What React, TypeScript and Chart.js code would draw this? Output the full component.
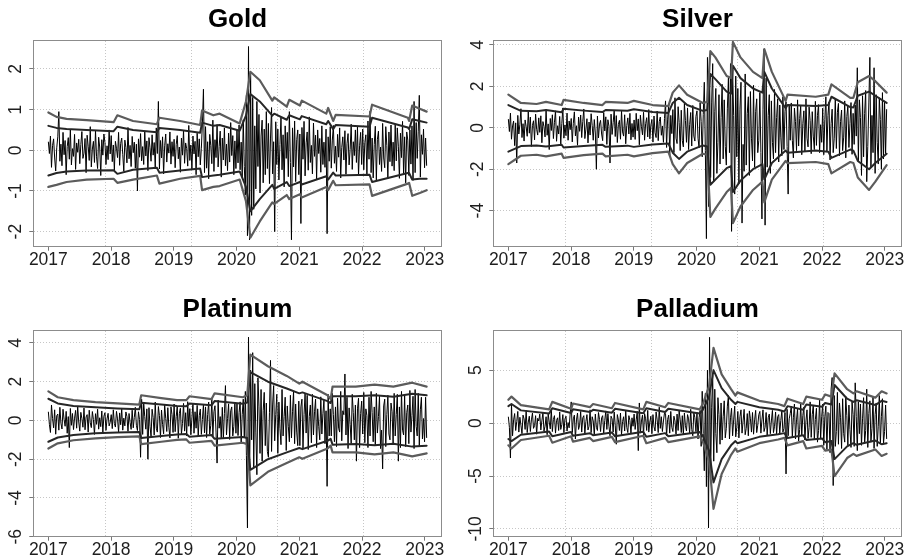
import React, { useEffect, useRef } from "react";
import { Chart, registerables } from "chart.js";
Chart.register(...registerables);

const FONT = "'Liberation Sans', Arial, Helvetica, sans-serif";
const X_MIN = 2016.76;
const X_MAX = 2023.27;
const RET_START = 2017.0;
const RET_END = 2023.03;

// year tick labels and dotted vertical grid positions (R's grid at day 17500, 18000, 18500, 19000)
const yearTicks = [2017, 2018, 2019, 2020, 2021, 2022, 2023];
const gridDates = [2017.912, 2019.282, 2020.65, 2022.019];

// ---------------- Gold ----------------
const goldReturns = [
  0.21,-0.08,0.35,-0.42,0.12,0.28,-0.19,-0.51,0.06,0.33,0.95,-0.27,0.15,-0.38,0.44,-0.11,0.24,-0.6,0.09,0.31,-0.22,0.52,-0.36,0.04,-0.15,0.39,-0.47,0.18,-0.05,0.27,
  -0.33,0.14,0.46,-0.2,-0.07,0.29,-0.55,0.37,0.1,-0.25,0.58,-0.41,0.03,0.22,-0.3,0.48,-0.16,-0.45,0.32,0.08,-0.62,0.26,-0.12,0.4,0.19,-0.35,0.11,-0.23,0.5,-0.09,
  0.36,-0.28,0.13,-0.49,0.22,0.05,-0.18,0.44,-0.37,0.17,0.3,-0.1,-0.52,0.25,0.07,-0.31,0.56,-0.21,0.12,-0.4,0.34,-0.06,0.2,-0.44,0.15,-1.0,0.28,-0.17,0.41,-0.26,
  0.09,-0.35,0.47,-0.14,0.23,-0.5,0.31,0.06,-0.27,0.38,-0.12,0.19,-0.42,0.55,-0.08,1.2,-0.46,0.24,-0.19,0.33,-0.58,0.11,0.4,-0.29,0.16,-0.07,0.45,-0.34,0.21,-0.15,
  0.27,-0.43,0.14,0.36,-0.21,0.08,-0.54,0.3,-0.12,0.49,-0.32,0.18,0.04,-0.39,0.61,-0.25,0.13,-0.47,0.35,-0.09,0.22,-0.6,0.42,-0.16,0.28,-0.36,0.05,0.66,1.5,-0.55,
  0.58,-0.44,0.21,-0.7,0.39,0.12,-0.33,0.74,-0.52,0.26,-0.18,0.63,-0.41,0.09,0.47,-0.66,0.3,-0.24,0.55,-0.38,0.15,-0.5,0.42,-0.29,0.68,-0.13,0.36,-0.6,0.23,-0.45,
  0.5,-0.31,0.62,-0.48,0.2,-0.66,0.75,-0.4,-1.1,1.35,-2.1,2.55,-2.2,1.9,-1.6,1.3,-1.45,0.6,-0.95,1.2,-0.4,0.88,-1.05,0.35,0.74,-0.8,0.52,-0.6,0.95,-0.45,
  0.66,-0.82,0.3,1.05,-0.58,0.21,-2.0,0.7,-0.35,0.52,-0.73,0.14,0.81,-0.48,0.38,-0.9,0.6,-0.2,0.44,-0.65,0.95,-0.3,-2.2,0.55,-0.41,0.72,-0.77,0.26,0.5,-0.6,
  0.4,-1.8,0.56,-0.22,0.71,-0.63,0.18,0.45,-0.49,0.82,-0.3,0.12,-0.58,0.67,-0.15,0.37,-0.71,0.5,-0.08,0.29,-0.54,0.6,-0.35,0.2,-0.42,0.52,-2.05,0.33,-0.27,0.58,
  -0.44,0.25,0.61,-0.32,0.1,-0.52,0.39,-0.17,0.55,-0.68,0.07,0.33,-0.24,0.48,-0.59,0.16,0.41,-0.36,0.02,0.64,-0.47,0.21,-0.13,0.5,-0.3,0.57,-0.62,0.11,0.44,-0.35,
  0.52,-0.48,0.19,0.38,-0.6,0.72,-0.22,0.96,-0.55,0.3,-0.68,0.14,0.59,-0.74,0.27,0.47,-0.35,0.08,-0.52,0.66,-0.19,-0.43,0.58,0.12,-0.7,0.45,-0.28,0.62,-0.39,0.2,
  -0.5,0.63,-0.26,0.55,0.1,-0.69,0.42,-0.18,0.71,-0.58,0.33,-0.8,0.45,0.25,-0.62,0.5,-0.34,0.6,-0.74,1.2,-0.55,0.68,-0.2,0.47,1.35,-0.66,0.38,-0.1,0.52,-0.43,
  0.3,-0.38,
];
const goldBandDates = [2017.0,2017.13,2017.29,2017.61,2018.04,2018.1,2018.35,2018.73,2018.77,2019.1,2019.42,2019.45,2019.63,2019.73,2020.05,2020.15,2020.22,2020.37,2020.57,2020.6,2020.8,2020.84,2021.01,2021.04,2021.43,2021.46,2021.54,2021.58,2022.12,2022.16,2022.73,2022.75,2022.8,2022.92,2023.03];
const goldUpper99 = [0.93,0.82,0.77,0.74,0.69,0.86,0.72,0.64,0.8,0.72,0.62,0.98,0.86,0.9,0.66,1.2,1.93,1.72,1.22,1.3,1.07,1.24,1.1,1.22,0.9,1.04,0.72,0.87,0.83,1.12,0.8,0.72,1.1,1.02,0.95];
const goldUpper95 = [0.6,0.55,0.52,0.5,0.47,0.58,0.5,0.44,0.55,0.5,0.43,0.68,0.6,0.62,0.48,0.85,1.38,1.2,0.85,0.9,0.75,0.86,0.76,0.84,0.64,0.72,0.52,0.62,0.58,0.8,0.56,0.52,0.76,0.72,0.68];
const goldLower95 = [-0.62,-0.56,-0.52,-0.5,-0.49,-0.58,-0.48,-0.43,-0.55,-0.5,-0.45,-0.66,-0.62,-0.6,-0.52,-0.9,-1.5,-1.2,-0.85,-0.95,-0.78,-0.88,-0.78,-0.84,-0.64,-0.72,-0.55,-0.62,-0.6,-0.78,-0.56,-0.56,-0.72,-0.7,-0.7];
const goldLower99 = [-0.9,-0.85,-0.78,-0.72,-0.7,-0.8,-0.72,-0.62,-0.82,-0.7,-0.63,-0.98,-0.9,-0.88,-0.72,-1.25,-2.15,-1.75,-1.28,-1.32,-1.1,-1.2,-1.08,-1.16,-0.9,-0.98,-0.75,-0.86,-0.84,-1.12,-0.82,-0.8,-1.12,-1.05,-0.98];
const goldYTicks = [-2, -1, 0, 1, 2];

// ---------------- Silver ----------------
const silverReturns = [
  0.42,-0.18,0.71,-0.55,0.09,0.33,-0.86,0.24,-1.7,0.6,-0.3,0.15,0.92,-0.47,0.2,-0.64,0.38,0.05,-0.41,0.77,-0.26,0.52,-0.9,0.12,0.34,-0.58,0.66,-0.07,-0.35,0.48,
  -0.22,0.58,-0.72,0.3,0.06,-0.44,0.88,-0.36,0.19,-1.05,0.45,-0.13,0.63,-0.52,0.27,0.82,-0.65,0.1,-0.3,0.55,-0.78,0.2,0.96,-0.5,0.14,-0.38,0.71,-0.6,0.33,-0.09,
  0.45,-0.68,0.22,0.77,-0.39,0.1,-0.84,0.52,-0.17,0.62,-0.47,0.3,0.91,-0.52,-0.06,0.44,-0.73,0.28,-0.35,0.68,0.12,-0.6,0.4,-0.25,-2.0,0.57,-0.49,0.18,0.36,-0.3,
  -0.62,0.74,-0.15,0.53,-0.8,0.39,0.08,-1.7,0.66,-0.32,0.25,0.85,-0.42,0.59,-0.71,0.16,0.36,-0.55,0.82,-0.2,-0.4,0.63,-0.77,0.11,0.48,-0.3,0.7,-0.58,0.21,-0.45,
  0.38,-0.56,0.7,-0.14,0.43,-0.82,0.61,0.05,-0.34,0.75,-0.6,0.2,0.49,-0.44,0.88,-0.53,0.13,0.4,-0.69,0.57,-0.24,-0.47,0.81,-0.62,0.3,0.52,-0.36,0.09,-0.7,0.45,
  1.3,-0.95,0.42,1.1,-1.35,0.6,-0.28,0.88,-1.2,1.45,-0.5,-0.76,1.02,0.25,-1.1,0.85,-0.62,-0.92,1.18,0.35,-0.7,0.96,-1.05,0.15,0.74,-0.88,1.08,-0.4,-0.64,0.55,
  0.82,-0.5,-0.97,1.2,0.3,-1.4,0.65,2.2,-1.1,-5.35,3.4,-3.8,2.9,-2.4,1.2,3.1,-2.6,0.8,1.9,-2.2,-0.7,1.6,-1.75,0.5,2.1,-1.5,1.35,-0.9,-1.8,0.95,
  2.4,-1.2,3.1,-5.0,2.8,0.6,-3.2,2.5,-1.4,1.9,-2.7,0.9,2.2,-4.6,-0.8,-2.1,2.6,-1.8,0.7,1.5,-2.3,1.75,-0.5,-1.6,2.05,-1.9,0.8,1.4,-1.2,-0.6,
  1.7,-1.2,-4.4,0.9,3.8,-4.7,2.4,-1.9,0.6,1.6,-2.2,1.3,-0.7,-1.5,1.85,-1.2,0.5,1.4,-1.65,1.1,-0.45,-1.35,1.5,-1.05,0.8,1.25,-0.9,-3.2,1.1,-0.6,
  1.2,-0.6,-1.45,0.95,0.3,-1.1,1.35,-0.88,0.45,1.05,-1.3,0.2,0.82,-1.15,1.4,-0.5,-0.92,1.0,0.35,-1.25,0.78,-0.4,-1.05,1.28,-0.85,0.6,1.12,-1.2,0.15,-0.7,
  0.95,-1.3,0.4,1.5,-1.15,0.6,1.25,-1.55,0.2,0.9,-1.2,-0.5,1.42,-1.0,0.75,1.18,-1.35,0.3,0.86,-1.1,-0.45,1.3,-1.45,0.55,1.05,-0.95,0.2,1.22,-1.28,0.7,
  -0.8,1.1,-0.4,2.9,-1.6,1.35,0.5,-2.3,1.55,-1.4,0.7,1.8,-2.6,-0.9,1.2,3.4,-1.9,0.6,-1.2,2.9,-2.2,1.6,-0.7,-1.75,1.45,0.4,-2.0,1.7,-1.5,1.3,
  -1.25,0.9,
];
const silverBandDates = [2017.0,2017.2,2017.45,2017.6,2017.85,2017.88,2018.2,2018.5,2018.55,2018.9,2019.0,2019.3,2019.55,2019.62,2019.72,2019.85,2020.1,2020.17,2020.22,2020.3,2020.48,2020.55,2020.58,2020.7,2020.9,2021.05,2021.08,2021.2,2021.42,2021.45,2021.9,2022.1,2022.15,2022.45,2022.5,2022.57,2022.75,2022.85,2023.03];
const silverUpper99 = [1.6,1.2,1.15,1.25,1.1,1.35,1.2,1.1,1.25,1.2,1.3,1.1,1.05,1.7,2.05,1.6,1.2,1.25,3.7,3.4,2.5,2.4,4.15,3.4,2.7,2.4,3.8,2.7,1.3,1.6,1.5,1.6,2.1,1.45,1.45,2.2,2.5,2.25,1.7];
const silverUpper95 = [1.1,0.82,0.8,0.86,0.75,0.92,0.83,0.76,0.86,0.82,0.9,0.76,0.72,1.2,1.45,1.1,0.82,0.86,2.6,2.35,1.75,1.65,3.0,2.4,1.9,1.7,2.7,1.9,0.95,1.1,1.05,1.1,1.5,1.0,0.98,1.55,1.75,1.55,1.2];
const silverLower95 = [-1.15,-0.88,-0.85,-0.9,-0.82,-0.95,-0.88,-0.82,-0.92,-0.86,-0.92,-0.8,-0.76,-1.2,-1.5,-1.15,-0.85,-0.9,-2.75,-2.5,-1.95,-1.85,-3.1,-2.55,-2.0,-1.75,-2.5,-1.7,-1.1,-1.2,-1.1,-1.15,-1.45,-1.05,-1.1,-1.6,-2.0,-1.7,-1.25];
const silverLower99 = [-1.75,-1.35,-1.3,-1.38,-1.25,-1.45,-1.32,-1.25,-1.38,-1.3,-1.38,-1.22,-1.15,-1.75,-2.2,-1.7,-1.25,-1.3,-4.3,-3.9,-3.1,-2.9,-4.6,-3.8,-3.0,-2.6,-3.6,-2.5,-1.6,-1.7,-1.65,-1.75,-2.2,-1.65,-1.7,-2.4,-3.0,-2.6,-1.8];
const silverYTicks = [-4, -2, 0, 2, 4];

// ---------------- Platinum ----------------
const platinumReturns = [
  0.45,-0.2,-0.62,0.8,0.1,-0.38,0.55,-0.71,0.25,0.33,-0.5,0.68,-0.14,-0.44,0.58,0.06,-0.3,0.47,-0.66,0.2,-1.4,0.62,-0.25,0.36,-0.47,0.12,0.52,-0.4,0.71,-0.08,
  -0.55,0.42,0.1,-0.35,0.64,-0.48,0.18,0.3,-0.6,0.53,-0.12,-0.37,0.46,0.05,-0.72,0.35,-0.2,0.58,-0.45,0.14,-0.32,0.49,-0.63,0.22,0.4,-0.51,0.08,0.37,-0.28,-0.1,
  0.3,-0.42,0.55,-0.16,-0.34,0.47,0.08,-0.6,0.39,-0.22,0.62,-0.5,0.12,-0.28,0.44,0.2,-0.56,0.36,-0.1,-0.46,0.53,-0.38,0.15,0.68,-0.25,-0.52,0.45,0.05,-1.9,1.1,
  -0.72,0.9,0.2,-0.45,0.6,-2.0,0.66,-0.3,-0.84,0.58,0.15,-0.75,0.95,-0.4,-0.6,0.72,0.25,-0.88,0.54,-0.2,-0.69,0.81,0.1,-0.57,0.66,-0.35,-0.9,0.7,0.3,-0.62,
  0.85,-0.58,0.2,0.74,-0.92,0.35,0.63,-0.7,-0.15,0.88,-0.55,0.4,-0.8,0.97,-0.3,0.61,-0.74,0.12,0.9,-0.66,0.45,-0.4,0.78,-0.85,0.25,0.59,-0.72,0.05,0.83,-0.64,
  0.7,-0.88,0.3,0.95,-0.7,-0.25,1.1,-0.82,0.45,0.76,-0.6,-2.2,1.05,-0.4,0.2,-0.9,0.68,-0.95,0.35,1.8,-0.74,0.1,0.86,-0.98,0.5,0.7,-0.8,-0.3,0.92,-0.66,
  0.85,-0.78,0.4,0.96,-1.2,0.3,1.1,-0.9,1.5,-1.8,-5.55,4.3,-3.2,2.6,-1.0,3.5,-2.4,1.9,-0.6,-2.8,2.2,0.7,-1.7,1.6,-2.1,0.5,1.45,-1.3,0.9,-1.6,
  -1.9,0.4,3.1,-1.6,0.8,1.8,-1.05,0.3,1.35,-1.7,0.95,-0.4,-1.25,1.6,-0.8,0.2,1.2,-1.55,0.75,-0.3,-1.1,1.3,-0.9,0.45,1.5,-1.2,0.85,-0.6,-1.3,1.0,
  -1.3,0.7,1.1,-1.45,0.3,1.4,-0.65,1.3,-1.5,0.2,0.8,-1.15,1.35,-0.75,0.45,1.1,-1.4,0.6,-0.3,-1.0,1.22,-0.7,0.35,1.05,-1.2,0.5,-3.4,1.35,-0.8,0.6,
  -0.8,1.4,0.3,-1.1,0.7,-1.35,1.15,-0.4,-0.6,1.5,-1.05,0.5,0.3,2.4,-0.75,1.2,-1.45,0.65,-0.2,-1.2,1.35,0.4,-1.0,0.8,-2.1,0.6,1.15,-1.4,0.35,1.0,
  -0.7,1.45,-1.15,0.6,0.25,-1.4,1.2,-0.8,1.5,0.4,-1.1,0.7,-1.3,1.4,-0.65,0.2,1.25,-1.45,-0.5,-2.5,0.75,1.1,-1.35,0.3,1.3,-0.7,-1.0,0.9,0.45,-1.2,
  1.4,-0.8,0.3,1.35,-2.1,0.7,-1.4,1.5,-0.5,-0.75,1.3,-1.35,0.4,0.8,-1.2,1.55,-0.6,0.25,1.25,-1.45,1.6,-0.3,-0.8,1.4,-1.35,0.55,1.2,-0.95,0.1,-1.1,
  1.2,-0.9,
];
const platinumBandDates = [2017.0,2017.15,2017.4,2017.75,2018.1,2018.45,2018.48,2018.8,2019.05,2019.2,2019.25,2019.6,2019.65,2020.1,2020.17,2020.22,2020.5,2020.8,2021.0,2021.05,2021.45,2021.5,2021.53,2021.9,2022.2,2022.5,2022.8,2023.03];
const platinumUpper99 = [1.5,1.2,1.05,0.95,0.88,0.82,1.3,1.15,1.05,1.05,1.25,1.1,1.4,1.2,1.3,3.4,2.8,2.3,1.9,2.0,1.3,1.1,1.75,1.75,1.85,1.75,1.95,1.75];
const platinumUpper95 = [1.12,0.88,0.75,0.68,0.62,0.58,0.92,0.82,0.75,0.74,0.88,0.78,1.0,0.86,0.92,2.5,2.0,1.65,1.4,1.45,1.0,0.9,1.25,1.25,1.3,1.22,1.38,1.3];
const platinumLower95 = [-1.1,-0.88,-0.75,-0.66,-0.62,-0.6,-0.9,-0.8,-0.72,-0.7,-0.84,-0.75,-0.95,-0.85,-0.9,-2.55,-2.0,-1.65,-1.42,-1.48,-1.05,-0.95,-1.25,-1.22,-1.28,-1.2,-1.35,-1.3];
const platinumLower99 = [-1.45,-1.18,-1.02,-0.92,-0.86,-0.82,-1.22,-1.1,-1.0,-0.98,-1.15,-1.05,-1.3,-1.15,-1.22,-3.35,-2.65,-2.2,-1.9,-1.98,-1.45,-1.3,-1.65,-1.65,-1.75,-1.65,-1.85,-1.7];
const platinumYTicks = [-6, -4, -2, 0, 2, 4];

// ---------------- Palladium ----------------
const palladiumReturns = [
  0.6,-0.4,-3.3,1.8,-1.2,0.3,0.9,-0.7,0.15,1.1,-0.85,0.55,-0.2,-1.0,0.75,0.4,-0.6,1.2,-0.9,0.1,0.65,-0.8,0.3,0.95,-0.5,-0.25,0.7,-1.05,0.45,0.2,
  0.85,-0.65,0.2,1.0,-0.75,-0.3,0.6,-1.1,0.9,0.1,-0.55,1.3,-0.8,0.35,0.7,-0.95,0.25,0.5,-0.7,1.05,-0.6,-0.15,0.8,-0.9,0.4,0.65,-0.75,0.05,-0.45,0.9,
  2.0,-0.9,0.4,0.75,-1.5,0.3,0.95,-0.6,-0.2,1.1,-0.85,0.5,0.7,-1.0,0.15,0.8,-0.65,-0.3,1.25,-0.9,0.6,0.2,-1.15,0.85,-0.4,-0.7,1.0,0.35,-0.8,0.5,
  0.7,-0.95,0.25,1.15,-0.6,0.9,-0.3,-1.2,0.65,0.4,-0.85,1.05,-0.2,-2.0,0.8,0.3,-0.7,0.95,-1.1,0.15,0.6,-0.75,1.2,-0.4,-0.9,0.7,0.25,-1.0,0.5,-0.3,
  0.85,-0.6,0.3,1.1,-2.6,1.9,-0.95,0.2,0.75,-1.1,0.9,0.4,-0.7,1.2,-0.85,0.1,0.65,-1.0,0.8,-0.35,-0.75,1.05,0.3,-0.9,1.5,-0.5,0.6,-0.8,0.2,0.95,
  0.9,-1.2,0.35,0.75,-0.95,1.1,-0.4,-0.8,0.65,0.2,-1.05,0.85,-0.7,1.15,0.3,-0.9,0.7,-1.1,0.95,-0.25,-0.75,0.8,0.4,-1.0,1.3,-0.6,-1.2,1.0,0.5,-0.8,
  1.0,-1.5,0.5,1.2,-2.2,3.0,-1.0,-4.5,2.8,-6.0,5.0,-9.9,8.1,-5.2,1.5,4.5,-3.6,3.2,-1.0,-2.8,2.4,0.8,-2.0,1.9,-1.6,0.6,2.1,-1.4,-0.5,1.6,
  2.6,-1.5,0.5,1.4,-1.2,0.3,1.6,-1.3,-0.4,1.1,-1.4,0.6,1.25,-0.95,0.2,1.3,-1.1,-0.5,0.9,-1.2,1.15,0.4,-0.85,1.0,-1.05,0.3,1.2,-0.9,-0.2,0.8,
  1.1,-0.95,0.3,1.25,-0.8,-0.4,1.0,-1.15,0.5,0.85,-1.0,0.2,1.2,-0.9,-0.3,1.05,-1.1,0.6,0.8,-0.95,0.25,1.15,-0.85,-0.5,1.0,-4.8,1.3,-1.2,0.4,0.9,
  1.6,-1.3,0.5,1.8,-1.5,0.3,1.35,-1.7,-0.6,1.9,-1.2,0.7,1.5,-1.6,0.2,1.25,-1.45,-0.4,2.0,-1.35,0.8,1.7,-1.55,0.35,1.4,-1.8,-0.7,2.2,-1.5,0.6,
  1.8,-2.1,0.6,1.6,-2.5,1.0,0.9,-2.8,3.2,4.3,-5.9,2.6,-2.2,-0.8,2.9,-2.0,1.9,0.5,-2.4,2.3,-1.0,-1.8,2.5,0.7,-2.1,1.7,-0.6,-2.3,2.0,0.8,
  -2.2,3.8,0.6,-2.6,2.0,-1.0,1.8,-2.1,0.4,2.4,-1.9,-0.7,3.2,-2.3,0.9,2.1,-1.8,-0.5,2.5,-2.4,0.8,1.9,-2.2,-0.3,2.6,-2.0,0.6,2.3,-1.9,-0.8,
  1.7,-1.5,
];
const palladiumBandDates = [2017.0,2017.05,2017.2,2017.65,2017.7,2018.0,2018.03,2018.3,2018.35,2018.65,2018.7,2019.15,2019.2,2019.5,2019.55,2020.05,2020.1,2020.2,2020.27,2020.4,2020.55,2020.62,2020.65,2021.0,2021.3,2021.4,2021.45,2021.7,2021.75,2022.0,2022.05,2022.15,2022.2,2022.4,2022.5,2022.55,2022.85,2022.95,2023.03];
const palladiumUpper99 = [2.2,2.5,1.7,1.3,2.0,1.35,1.85,1.5,1.8,1.4,1.9,1.3,2.0,1.5,1.9,1.3,1.8,3.5,7.1,4.6,3.2,2.6,2.9,2.1,1.8,1.6,2.3,1.8,2.5,2.2,2.7,2.5,4.7,3.2,2.8,3.0,2.4,3.0,2.8];
const palladiumUpper95 = [1.6,1.8,1.2,0.9,1.4,0.95,1.3,1.05,1.25,0.98,1.35,0.92,1.4,1.05,1.35,0.9,1.25,2.5,5.0,3.3,2.2,1.8,2.0,1.5,1.25,1.1,1.6,1.25,1.75,1.55,1.9,1.75,3.6,2.3,2.0,2.15,1.7,2.1,2.0];
const palladiumLower95 = [-1.5,-1.7,-1.1,-0.8,-1.25,-0.85,-1.2,-0.95,-1.15,-0.88,-1.25,-0.82,-1.3,-0.95,-1.25,-0.85,-1.2,-2.6,-5.6,-3.4,-2.1,-1.7,-1.9,-1.3,-1.05,-0.95,-1.4,-1.15,-1.6,-1.45,-1.8,-1.7,-3.4,-2.2,-1.9,-2.05,-1.65,-2.0,-1.9];
const palladiumLower99 = [-2.1,-2.4,-1.6,-1.2,-1.85,-1.25,-1.75,-1.4,-1.7,-1.3,-1.8,-1.2,-1.9,-1.4,-1.8,-1.25,-1.75,-3.6,-8.1,-4.8,-3.0,-2.4,-2.7,-1.9,-1.55,-1.4,-2.1,-1.7,-2.4,-2.15,-2.6,-2.5,-5.0,-3.3,-2.9,-3.1,-2.5,-3.1,-2.9];
const palladiumYTicks = [-10, -5, 0, 5];

type Panel = {
  title: string;
  returns: number[];
  bandDates: number[];
  up99: number[];
  up95: number[];
  lo95: number[];
  lo99: number[];
  yTicks: number[];
  yMin: number;
  yMax: number;
  yPad: number;
  left: number;
  top: number;
};

const panels: Panel[] = [
  { title: "Gold", returns: goldReturns, bandDates: goldBandDates, up99: goldUpper99, up95: goldUpper95, lo95: goldLower95, lo99: goldLower99, yTicks: goldYTicks, yMin: -2.37, yMax: 2.71, yPad: 5.5, left: 0, top: 0 },
  { title: "Silver", returns: silverReturns, bandDates: silverBandDates, up99: silverUpper99, up95: silverUpper95, lo95: silverLower95, lo99: silverLower99, yTicks: silverYTicks, yMin: -5.74, yMax: 4.24, yPad: 3.2, left: 460, top: 0 },
  { title: "Platinum", returns: platinumReturns, bandDates: platinumBandDates, up99: platinumUpper99, up95: platinumUpper95, lo95: platinumLower95, lo99: platinumLower99, yTicks: platinumYTicks, yMin: -6.0, yMax: 4.67, yPad: 5.5, left: 0, top: 290 },
  { title: "Palladium", returns: palladiumReturns, bandDates: palladiumBandDates, up99: palladiumUpper99, up95: palladiumUpper95, lo95: palladiumLower95, lo99: palladiumLower99, yTicks: palladiumYTicks, yMin: -10.73, yMax: 8.79, yPad: 0, left: 460, top: 290 },
];

const CW = 446;
const CH = 270;
const BOX_COLOR = "#8c8c8c";
const GRID_COLOR = "#c6c6c6";
const TICK_COLOR = "#777777";
const LABEL_COLOR = "#1e1e1e";

function PanelChart({ p }: { p: Panel }) {
  const ref = useRef<HTMLCanvasElement | null>(null);
  useEffect(() => {
    if (!ref.current) return;
    const n = p.returns.length;
    const retPts = p.returns.map((v, i) => ({ x: RET_START + (i * (RET_END - RET_START)) / (n - 1), y: v }));
    const band = (vals: number[]) => vals.map((v, i) => ({ x: p.bandDates[i], y: v }));
    const bandBase = { pointRadius: 0, borderJoinStyle: "round" as const, borderCapStyle: "round" as const, fill: false, tension: 0 };
    const chart = new Chart(ref.current, {
      type: "line",
      data: {
        datasets: [
          { ...bandBase, data: band(p.up99), borderColor: "#5c5c5c", borderWidth: 2.2, order: 1 },
          { ...bandBase, data: band(p.up95), borderColor: "#262626", borderWidth: 2, order: 1 },
          { ...bandBase, data: band(p.lo95), borderColor: "#262626", borderWidth: 2, order: 1 },
          { ...bandBase, data: band(p.lo99), borderColor: "#5c5c5c", borderWidth: 2.2, order: 1 },
          { data: retPts, borderColor: "#000000", borderWidth: 1, pointRadius: 0, fill: false, tension: 0, borderJoinStyle: "bevel" as const, order: 5 },
        ],
      },
      options: {
        responsive: false,
        animation: false,
        devicePixelRatio: 1,
        events: [],
        layout: { padding: { left: 0, right: 4.3, top: 0, bottom: 0 } },
        plugins: {
          legend: { display: false },
          tooltip: { enabled: false },
          title: {
            display: true,
            text: p.title,
            fullSize: false,
            color: "#000000",
            font: { family: FONT, size: 26, weight: "bold", lineHeight: 1.2 },
            padding: { top: 4, bottom: 4.8 },
          },
        },
        scales: {
          x: {
            type: "linear",
            position: "bottom",
            min: X_MIN,
            max: X_MAX,
            afterBuildTicks: (s: any) => { s.ticks = yearTicks.map((v) => ({ value: v })); },
            afterFit: (s: any) => { s.height = CH - 246.7; },
            ticks: {
              callback: (v: any) => String(v),
              font: { family: FONT, size: 17.5 },
              color: LABEL_COLOR,
              padding: -1,
              autoSkip: false,
              maxRotation: 0,
              minRotation: 0,
            },
            grid: { drawOnChartArea: false, drawTicks: true, tickLength: 4, tickColor: TICK_COLOR, tickWidth: 1 },
            border: { display: true, color: BOX_COLOR, width: 1 },
          },
          xg: {
            type: "linear",
            position: "top",
            min: X_MIN,
            max: X_MAX,
            afterBuildTicks: (s: any) => { s.ticks = gridDates.map((v) => ({ value: v })); },
            afterFit: (s: any) => { s.height = 0; },
            ticks: { display: false },
            grid: { drawOnChartArea: true, drawTicks: false, color: GRID_COLOR, lineWidth: 1 },
            border: { display: true, color: BOX_COLOR, width: 1, dash: [1, 2] },
          },
          y: {
            type: "linear",
            position: "left",
            min: p.yMin,
            max: p.yMax,
            afterBuildTicks: (s: any) => { s.ticks = p.yTicks.map((v) => ({ value: v })); },
            afterFit: (s: any) => { s.width = 33.3; },
            ticks: {
              callback: (v: any) => String(v),
              font: { family: FONT, size: 17.5 },
              color: LABEL_COLOR,
              crossAlign: "center",
              minRotation: 90,
              maxRotation: 90,
              padding: p.yPad,
              autoSkip: false,
            },
            grid: { drawOnChartArea: true, drawTicks: true, tickLength: 4, color: GRID_COLOR, tickColor: TICK_COLOR, tickWidth: 1, tickBorderDash: [] },
            border: { display: true, color: BOX_COLOR, width: 1, dash: [1, 2] },
          },
          y2: {
            type: "linear",
            position: "right",
            min: 0,
            max: 1,
            afterFit: (s: any) => { s.width = 0; },
            ticks: { display: false },
            grid: { display: false, drawTicks: false },
            border: { display: true, color: BOX_COLOR, width: 1 },
          },
        },
      } as any,
    });
    return () => chart.destroy();
  }, [p]);
  return (
    <canvas
      ref={ref}
      width={CW}
      height={CH}
      style={{ position: "absolute", left: p.left, top: p.top, width: CW, height: CH }}
    />
  );
}

export default function App() {
  return (
    <div style={{ position: "absolute", left: 0, top: 0, width: 906, height: 560, overflow: "hidden", background: "#ffffff" }}>
      {panels.map((p) => (
        <PanelChart key={p.title} p={p} />
      ))}
    </div>
  );
}
